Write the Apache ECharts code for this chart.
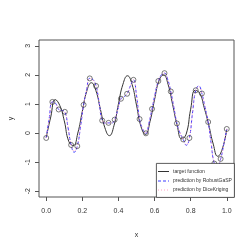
<!DOCTYPE html>
<html>
<head>
<meta charset="utf-8">
<script src="https://cdn.jsdelivr.net/npm/echarts@6/dist/echarts.min.js"></script>
<style>
html,body{margin:0;padding:0;background:#fff;}
#c{width:249px;height:249px;}
</style>
</head>
<body>
<div id="c"></div>
<script>
// grid of the target function
var fX = [0,0.025,0.05,0.075,0.1,0.125,0.15,0.175,0.2,0.225,0.25,0.275,0.3,0.325,0.35,0.375,0.4,0.425,0.45,0.475,0.5,0.525,0.55,0.575,0.6,0.625,0.65,0.675,0.7,0.725,0.75,0.775,0.8,0.825,0.85,0.875,0.9,0.925,0.95,0.975,1.0];
var fY = [-0.15,0.55,1.15,0.95,0.42,-0.29,-0.43,0.0,0.75,1.45,1.73,1.46,0.82,0.18,-0.09,0.25,1.0,1.68,1.97,1.68,0.96,0.22,-0.05,0.4,1.15,1.8,2.0,1.67,0.98,0.27,-0.2,-0.04,0.82,1.47,1.37,0.87,0.28,-0.38,-0.8,-0.55,0.14];
// observations
var obsX = [0,0.034,0.069,0.103,0.138,0.172,0.207,0.241,0.276,0.310,0.345,0.379,0.414,0.448,0.483,0.517,0.552,0.586,0.621,0.655,0.690,0.724,0.759,0.793,0.828,0.862,0.897,0.931,0.966,1.0];
var obsY = [-0.17,1.07,0.81,0.73,-0.41,-0.45,0.97,1.88,1.62,0.43,0.35,0.46,1.18,1.35,1.83,0.48,-0.01,0.83,1.79,2.06,1.43,0.33,-0.22,-0.17,1.47,1.36,0.38,-1.05,-0.89,0.14];
// predictions between observations (midpoints)
var midX = [0.017,0.052,0.086,0.121,0.155,0.190,0.224,0.259,0.293,0.328,0.362,0.397,0.431,0.466,0.500,0.534,0.569,0.603,0.638,0.672,0.707,0.741,0.776,0.810,0.845,0.879,0.914,0.948,0.983];
var robustMid = [0.52,1.02,0.78,0.18,-0.66,0.22,1.50,1.84,1.05,0.34,0.34,0.82,1.25,1.62,1.30,0.14,0.35,1.35,2.00,1.86,0.88,0.0,-0.42,0.68,1.62,0.90,-0.38,-1.15,-0.40];
var diceMid = [0.50,1.00,0.77,0.20,-0.62,0.24,1.48,1.82,1.06,0.35,0.35,0.83,1.26,1.60,1.30,0.16,0.36,1.34,1.98,1.84,0.89,0.02,-0.40,0.70,1.60,0.92,-0.36,-1.12,-0.40];
var xTicks = [0,0.2,0.4,0.6,0.8,1.0];
var yTicks = [-2,-1,0,1,2,3];
var legendNames = ['target function','prediction by RobustGaSP','prediction by DiceKriging'];

function pairs(xs, ys){ return xs.map(function(x,i){return [x, ys[i]];}); }
function merged(mid){
  var out = [];
  for (var i=0;i<obsX.length;i++){
    out.push([obsX[i], obsY[i]]);
    if (i<midX.length) out.push([midX[i], mid[i]]);
  }
  return out;
}

var chart = echarts.init(document.getElementById('c'), null, {renderer:'canvas'});
var txt = '#333';
var font = 'Liberation Sans, Arial, sans-serif';
chart.setOption({
  animation:false,
  backgroundColor:'#fff',
  grid:{left:29,right:15,top:40,bottom:52,show:true,borderColor:'#555',borderWidth:1,backgroundColor:'transparent'},
  xAxis:{type:'value',min:-0.04,max:1.04,
    name:'x',nameLocation:'middle',nameGap:35,nameTextStyle:{color:txt,fontSize:7,fontFamily:font},
    axisLine:{show:false,onZero:false},
    axisTick:{show:true,length:4,customValues:xTicks,lineStyle:{color:'#555',width:1}},
    axisLabel:{customValues:xTicks,margin:11,color:txt,fontSize:7,fontFamily:font,
      formatter:function(v){return v.toFixed(1);}},
    splitLine:{show:false}},
  yAxis:{type:'value',min:-2.2,max:3.2,
    name:'y',nameLocation:'middle',nameGap:24,nameTextStyle:{color:txt,fontSize:7,fontFamily:font},
    axisLine:{show:false,onZero:false},
    axisTick:{show:true,length:4,customValues:yTicks,lineStyle:{color:'#555',width:1}},
    axisLabel:{customValues:yTicks,rotate:90,margin:7,color:txt,fontSize:7,fontFamily:font,
      formatter:function(v){return String(v);}},
    splitLine:{show:false}},
  series:[
    {type:'line',name:legendNames[0],data:pairs(fX,fY),smooth:0.5,showSymbol:false,
      lineStyle:{color:'#333',width:1}},
    {type:'line',name:legendNames[1],data:merged(robustMid),smooth:0.5,showSymbol:false,
      lineStyle:{color:'#3a3aff',width:1,type:[3,2]}},
    {type:'line',name:legendNames[2],data:merged(diceMid),smooth:0.5,showSymbol:false,
      lineStyle:{color:'#ff9ec4',width:1,type:[1,2]}},
    {type:'scatter',data:pairs(obsX,obsY),symbol:'circle',symbolSize:5,
      itemStyle:{color:'rgba(0,0,0,0)',borderColor:'#333',borderWidth:0.8},z:5}
  ],
  graphic:[
    {type:'rect',left:156,top:163,shape:{width:78,height:34},style:{fill:'#fff',stroke:'#333',lineWidth:0.8},z:10},
    {type:'line',shape:{x1:158,y1:171.5,x2:169,y2:171.5},style:{stroke:'#333',lineWidth:1},z:11},
    {type:'line',shape:{x1:158,y1:181,x2:169,y2:181},style:{stroke:'#3a3aff',lineWidth:1,lineDash:[3,2]},z:11},
    {type:'line',shape:{x1:158,y1:190,x2:169,y2:190},style:{stroke:'#ff9ec4',lineWidth:1,lineDash:[1,2]},z:11},
    {type:'text',x:173,y:171.5,style:{text:legendNames[0],fill:txt,fontSize:5,fontFamily:font,verticalAlign:'middle'},z:11},
    {type:'text',x:173,y:181,style:{text:legendNames[1],fill:txt,fontSize:5,fontFamily:font,verticalAlign:'middle'},z:11},
    {type:'text',x:173,y:190,style:{text:legendNames[2],fill:txt,fontSize:5,fontFamily:font,verticalAlign:'middle'},z:11}
  ]
});
</script>
</body>
</html>
